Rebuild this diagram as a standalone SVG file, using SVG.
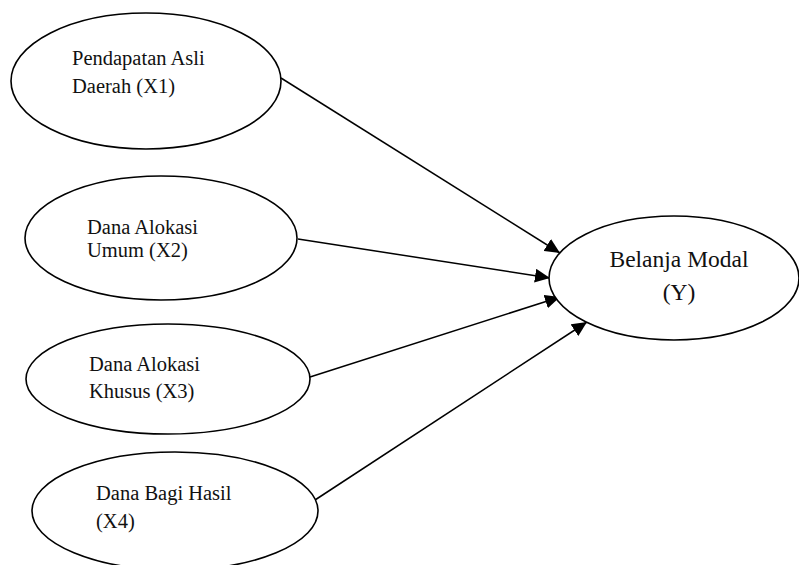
<svg xmlns="http://www.w3.org/2000/svg" width="799" height="565" viewBox="0 0 799 565">
<style>
.node ellipse{fill:#fff;stroke:#000;stroke-width:1.6}
.lbl{font-family:"Liberation Serif","Times New Roman",serif;font-size:20.5px;fill:#111}
.lblY{font-family:"Liberation Serif","Times New Roman",serif;font-size:23.5px;fill:#111}
.edge{stroke:#000;stroke-width:1.5;fill:none;marker-end:url(#arr)}
</style>
<defs>
<marker id="arr" markerUnits="userSpaceOnUse" markerWidth="16" markerHeight="14" refX="15" refY="7" orient="auto">
<path d="M0,0 L15,7 L0,14 Z" fill="#000"/>
</marker>
</defs>
<rect width="799" height="565" fill="#fff"/>
<g id="connectors">
<line class="edge" x1="281" y1="78" x2="560" y2="253"/>
<line class="edge" x1="298" y1="239" x2="550" y2="278"/>
<line class="edge" x1="310" y1="377" x2="560" y2="297"/>
<line class="edge" x1="315" y1="500" x2="587" y2="322"/>
</g>
<g id="X1" class="node">
<ellipse cx="146" cy="81" rx="135" ry="68"/>
<text class="lbl" x="72" y="65">Pendapatan Asli</text>
<text class="lbl" x="72" y="93">Daerah (X1)</text>
</g>
<g id="X2" class="node">
<ellipse cx="161" cy="238" rx="136" ry="62"/>
<text class="lbl" x="87" y="234">Dana Alokasi</text>
<text class="lbl" x="87" y="257">Umum (X2)</text>
</g>
<g id="X3" class="node">
<ellipse cx="168" cy="379" rx="142" ry="55"/>
<text class="lbl" x="89" y="371">Dana Alokasi</text>
<text class="lbl" x="89" y="398">Khusus (X3)</text>
</g>
<g id="X4" class="node">
<ellipse cx="175" cy="511" rx="143" ry="59"/>
<text class="lbl" x="96" y="500">Dana Bagi Hasil</text>
<text class="lbl" x="96" y="528">(X4)</text>
</g>
<g id="Y" class="node">
<ellipse cx="674" cy="278" rx="125" ry="62"/>
<text class="lblY" x="679" y="267" text-anchor="middle">Belanja Modal</text>
<text class="lblY" x="679" y="300" text-anchor="middle">(Y)</text>
</g>
</svg>
